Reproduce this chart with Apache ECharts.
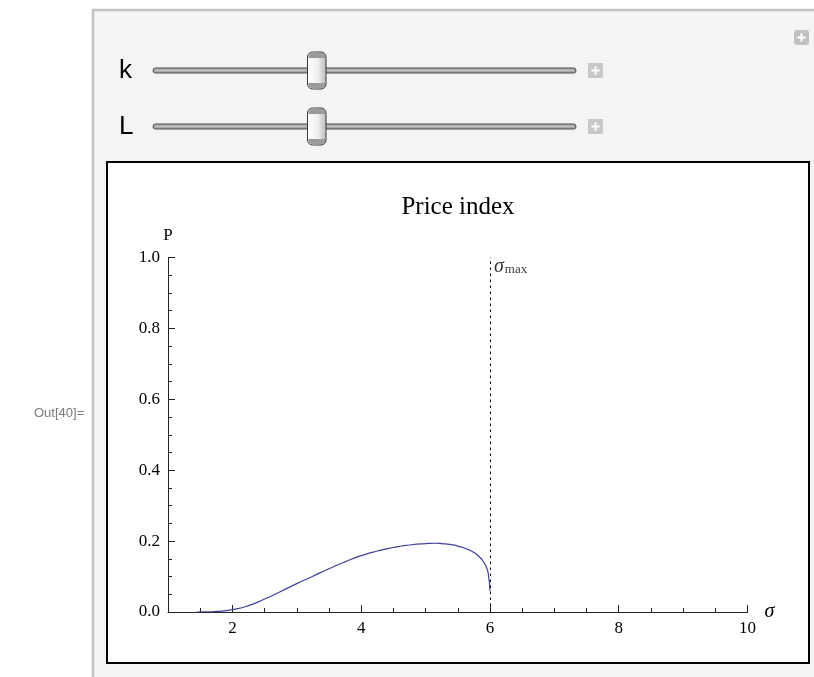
<!DOCTYPE html>
<html>
<head>
<meta charset="utf-8">
<script src="https://cdn.jsdelivr.net/npm/echarts@6/dist/echarts.min.js"></script>
<style>
  html, body { margin: 0; padding: 0; background: #ffffff; }
  #chart { width: 814px; height: 677px; }
</style>
</head>
<body>
<div id="chart"></div>
<script>
// ---- data ----
const sigma = [1.45, 1.6, 1.75, 2.0, 2.25, 2.5, 2.75, 3.0, 3.25, 3.5, 3.75, 4.0, 4.25, 4.5, 4.75, 5.0, 5.15, 5.25, 5.4, 5.5, 5.65, 5.75, 5.85, 5.9, 5.95, 5.98, 6.0];
const price = [0.0, 0.0003, 0.0015, 0.0066, 0.018, 0.0366, 0.058, 0.080, 0.101, 0.122, 0.1415, 0.159, 0.172, 0.182, 0.189, 0.193, 0.194, 0.193, 0.190, 0.186, 0.177, 0.168, 0.153, 0.141, 0.124, 0.100, 0.060];
const xMajorTicks = [2, 4, 6, 8, 10];
const xMinorTicks = [1.5, 2.5, 3, 3.5, 4.5, 5, 5.5, 6.5, 7, 7.5, 8.5, 9, 9.5];
const xRange = [1, 10];
const yRange = [0, 1];
const yStep = 0.2;
const sigmaMax = 6;
const sigmaMaxLabelY = 0.975;
const sliderNames = ['k', 'L'];
const titleText = 'Price index';
const outLabel = 'Out[40]=';

const serif = '"Liberation Serif", "DejaVu Serif", serif';
const sans = '"Liberation Sans", Arial, sans-serif';

const chart = echarts.init(document.getElementById('chart'), null, { renderer: 'canvas' });

// ---- decorative elements (panel, frame, sliders) ----
const graphics = [];
graphics.push({ type: 'rect', z: -20, shape: { x: 93, y: 10, width: 740, height: 700 },
  style: { fill: '#f4f4f4', stroke: '#c2c2c2', lineWidth: 2.5 } });
graphics.push({ type: 'rect', z: -10, shape: { x: 107, y: 162, width: 702, height: 501 },
  style: { fill: '#ffffff', stroke: '#000000', lineWidth: 2 } });
graphics.push({ type: 'text', z: 5, style: { x: 34, y: 413, text: outLabel, fill: '#7a7a7a',
  font: '13px ' + sans, verticalAlign: 'middle', align: 'left' } });
function plusIcon(x, y, s, fill, r) {
  graphics.push({ type: 'rect', z: 5, shape: { x: x, y: y, width: s, height: s, r: r },
    style: { fill: fill } });
  const c = s / 2, a = s * 0.28;
  graphics.push({ type: 'line', z: 6, shape: { x1: x + c - a, y1: y + c, x2: x + c + a, y2: y + c },
    style: { stroke: '#ffffff', lineWidth: 2 } });
  graphics.push({ type: 'line', z: 6, shape: { x1: x + c, y1: y + c - a, x2: x + c, y2: y + c + a },
    style: { stroke: '#ffffff', lineWidth: 2 } });
}
plusIcon(794, 30, 15, '#c0c0c0', 3);

sliderNames.forEach(function (name, i) {
  const cy = 70.5 + i * 56;
  graphics.push({ type: 'text', z: 5, style: { x: 119, y: cy, text: name, fill: '#000000',
    font: '26px ' + sans, verticalAlign: 'middle', align: 'left' } });
  graphics.push({ type: 'rect', z: 5, shape: { x: 153, y: cy - 2.5, width: 423, height: 5, r: 2.5 },
    style: { fill: '#a8a8a8', stroke: '#4a4a4a', lineWidth: 1 } });
  graphics.push({ type: 'line', z: 6, shape: { x1: 156, y1: cy - 0.5, x2: 573, y2: cy - 0.5 },
    style: { stroke: '#c8c8c8', lineWidth: 1 } });
  graphics.push({ type: 'rect', z: 7, shape: { x: 307.5, y: cy - 18.5, width: 18.5, height: 37, r: 5 },
    style: { fill: new echarts.graphic.LinearGradient(0, 0, 1, 0, [
      { offset: 0, color: '#ffffff' }, { offset: 0.55, color: '#f0f0f0' }, { offset: 1, color: '#b8b8b8' }]),
      stroke: '#3a3a3a', lineWidth: 1 } });
  graphics.push({ type: 'rect', z: 8, shape: { x: 308.5, y: cy - 17.5, width: 16.5, height: 5, r: [4, 4, 0, 0] },
    style: { fill: '#9a9a9a' } });
  graphics.push({ type: 'rect', z: 8, shape: { x: 308.5, y: cy + 12.5, width: 16.5, height: 5, r: [0, 0, 4, 4] },
    style: { fill: '#9a9a9a' } });
  plusIcon(588, cy - 7.5, 15, '#c8c8c8', 0);
});

graphics.push({ type: 'text', z: 5, style: { x: 458, y: 207, text: titleText, fill: '#000000',
  font: '25px ' + serif, verticalAlign: 'middle', align: 'center' } });

const axisLineStyle = { color: '#222222', width: 1 };
const tickLabelStyle = { color: '#000000', fontFamily: serif, fontSize: 17 };

const option = {
  animation: false,
  backgroundColor: '#ffffff',
  grid: { left: 168, top: 257.5, width: 579.5, height: 354.5, containLabel: false, outerBoundsMode: 'none' },
  xAxis: [
    {
      type: 'value', min: xRange[0], max: xRange[1], position: 'bottom',
      axisLine: { show: true, onZero: false, lineStyle: axisLineStyle },
      axisTick: { show: true, inside: true, length: 7, customValues: xMajorTicks, lineStyle: axisLineStyle },
      axisLabel: { show: true, customValues: xMajorTicks, margin: 8, ...tickLabelStyle },
      splitLine: { show: false },
      name: 'σ', nameLocation: 'end', nameGap: 17,
      nameTextStyle: { fontFamily: serif, fontStyle: 'italic', fontSize: 20, color: '#000', padding: [0, 0, 5, 0] }
    },
    {
      type: 'value', min: xRange[0], max: xRange[1], position: 'bottom', offset: 0,
      axisLine: { show: false },
      axisTick: { show: true, inside: true, length: 4, customValues: xMinorTicks, lineStyle: axisLineStyle },
      axisLabel: { show: false },
      splitLine: { show: false }
    }
  ],
  yAxis: {
    type: 'value', min: yRange[0], max: yRange[1], interval: yStep,
    axisLine: { show: true, onZero: false, lineStyle: axisLineStyle },
    axisTick: { show: true, inside: true, length: 7, lineStyle: axisLineStyle },
    minorTick: { show: true, splitNumber: 4, length: 4, lineStyle: axisLineStyle },
    axisLabel: { show: true, margin: 8, formatter: function (v) { return v.toFixed(1); }, ...tickLabelStyle },
    splitLine: { show: false },
    minorSplitLine: { show: false },
    name: 'P', nameLocation: 'end', nameGap: 13,
    nameTextStyle: { fontFamily: serif, fontSize: 17, color: '#000', align: 'center' }
  },
  graphic: { elements: graphics },
  series: [
    {
      type: 'line', xAxisIndex: 0, yAxisIndex: 0,
      data: sigma.map(function (s, i) { return [s, price[i]]; }),
      showSymbol: false, symbol: 'none', smooth: 0.6,
      lineStyle: { color: '#3f3fa0', width: 1.2 },
      markLine: {
        silent: true, symbol: ['none', 'none'], animation: false,
        label: { show: false },
        lineStyle: { color: '#000000', width: 1, type: [2.5, 3.5] },
        data: [{ xAxis: sigmaMax }]
      }
    },
    {
      type: 'scatter', xAxisIndex: 0, yAxisIndex: 0, silent: true,
      symbolSize: 0, data: [[sigmaMax, sigmaMaxLabelY]],
      label: {
        show: true, position: 'right', distance: 4,
        formatter: '{a|σ}{b|max}',
        rich: {
          a: { fontFamily: serif, fontStyle: 'italic', fontSize: 20, color: '#000', verticalAlign: 'bottom', lineHeight: 20 },
          b: { fontFamily: serif, fontSize: 13, color: '#000', verticalAlign: 'bottom', lineHeight: 12, padding: [0, 0, 0, 1] }
        }
      }
    }
  ]
};
chart.setOption(option);
</script>
</body>
</html>
